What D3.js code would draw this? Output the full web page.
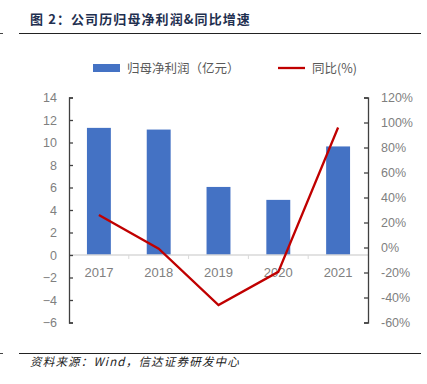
<!DOCTYPE html>
<html lang="zh">
<head>
<meta charset="UTF-8">
<title>公司历归母净利润&同比增速</title>
<script src="https://cdn.jsdelivr.net/npm/d3@7/dist/d3.min.js"></script>
<style>
    body { margin: 0; background: #fff; }
    svg { display: block; }
    .tick text { fill: #7f7f7f; font-family: "Liberation Sans", "Noto Sans CJK SC", sans-serif; }
</style>
</head>
<body>
<svg id="main" width="427" height="384"></svg>
<script>
    // data
    var years = ["2017", "2018", "2019", "2020", "2021"];
    var profit = [11.3, 11.15, 6.05, 4.9, 9.65];      // 亿元
    var growth = [26, -1, -46, -19.5, 96];            // %
    var leftTicks = [-6, -4, -2, 0, 2, 4, 6, 8, 10, 12, 14];
    var rightTicks = [-60, -40, -20, 0, 20, 40, 60, 80, 100, 120];

    var svg = d3.select("#main");
    var plotL = 69, plotR = 368, plotT = 97.5, plotB = 322.5;

    var x = d3.scaleBand().domain(years).range([plotL, plotR]).paddingInner(0.6).paddingOuter(0.3);
    var xc = d3.scaleBand().domain(years).range([plotL, plotR]);
    var y = d3.scaleLinear().domain([-6, 14]).range([plotB, plotT]);
    var y2 = d3.scaleLinear().domain([-60, 120]).range([plotB, plotT]);

    // title
    svg.append("text")
        .attr("x", 30).attr("y", 24)
        .attr("font-family", "'Noto Sans CJK SC', sans-serif")
        .attr("font-size", 13).attr("font-weight", "bold")
        .attr("letter-spacing", 1.1)
        .attr("fill", "#1f3050")
        .text("图 2：公司历归母净利润&同比增速");
    svg.append("line").attr("x1", 19).attr("x2", 421).attr("y1", 33.5).attr("y2", 33.5)
        .attr("stroke", "#222").attr("stroke-width", 1);
    svg.append("line").attr("x1", 0).attr("x2", 3).attr("y1", 33.5).attr("y2", 33.5)
        .attr("stroke", "#444").attr("stroke-width", 1);

    // bars
    svg.selectAll(".bar").data(profit).enter().append("rect")
        .attr("class", "bar")
        .attr("x", function(d, i) { return x(years[i]); })
        .attr("width", x.bandwidth())
        .attr("y", function(d) { return y(Math.max(0, d)); })
        .attr("height", function(d) { return Math.abs(y(d) - y(0)); })
        .attr("fill", "#4472c4");

    // category axis at zero
    var xAxis = svg.append("g")
        .attr("transform", "translate(0," + y(0) + ")");
    xAxis.append("line").attr("x1", plotL).attr("x2", plotR).attr("stroke", "#d9d9d9").attr("stroke-width", 1.3);
    xAxis.selectAll(".sep").data(years.slice(1)).enter().append("line")
        .attr("x1", function(d) { return xc(d); }).attr("x2", function(d) { return xc(d); })
        .attr("y1", 0).attr("y2", 4).attr("stroke", "#d9d9d9");
    xAxis.selectAll(".cat").data(years).enter().append("text")
        .attr("x", function(d) { return xc(d) + xc.bandwidth() / 2; })
        .attr("y", 22)
        .attr("text-anchor", "middle")
        .attr("font-family", "'Liberation Sans', sans-serif")
        .attr("font-size", 13).attr("fill", "#808080")
        .text(function(d) { return d; });

    // left axis
    var gl = svg.append("g").attr("transform", "translate(" + plotL + ",0)")
        .call(d3.axisRight(y).tickValues(leftTicks).tickSize(4).tickFormat(d3.format("d")));
    gl.select(".domain").attr("stroke", "#404040").attr("stroke-width", 1.3);
    gl.selectAll(".tick line").attr("stroke", "#404040").attr("stroke-width", 1.3);
    gl.selectAll(".tick text").attr("x", -12).attr("text-anchor", "end").attr("font-size", 12.5);

    // right axis
    var gr = svg.append("g").attr("transform", "translate(" + plotR + ",0)")
        .call(d3.axisLeft(y2).tickValues(rightTicks).tickSize(4).tickFormat(function(d) { return d + "%"; }));
    gr.select(".domain").attr("stroke", "#404040").attr("stroke-width", 1.3);
    gr.selectAll(".tick line").attr("stroke", "#404040").attr("stroke-width", 1.3);
    gr.selectAll(".tick text").attr("x", 13).attr("text-anchor", "start").attr("font-size", 12.5);

    // growth line
    var line = d3.line()
        .x(function(d, i) { return xc(years[i]) + xc.bandwidth() / 2; })
        .y(function(d) { return y2(d); });
    svg.append("path").datum(growth)
        .attr("d", line)
        .attr("fill", "none")
        .attr("stroke", "#c00000")
        .attr("stroke-width", 2.3);

    // legend
    var lg = svg.append("g").attr("font-family", "'Noto Sans CJK SC', sans-serif").attr("font-size", 12.5).attr("fill", "#595959");
    lg.append("rect").attr("x", 93).attr("y", 64).attr("width", 27).attr("height", 8).attr("fill", "#4472c4");
    lg.append("text").attr("x", 127).attr("y", 73).text("归母净利润（亿元）");
    lg.append("line").attr("x1", 278).attr("x2", 305).attr("y1", 68).attr("y2", 68)
        .attr("stroke", "#c00000").attr("stroke-width", 2.3);
    lg.append("text").attr("x", 312).attr("y", 73).text("同比(%)");

    // source
    svg.append("line").attr("x1", 19).attr("x2", 421).attr("y1", 353.5).attr("y2", 353.5)
        .attr("stroke", "#222").attr("stroke-width", 1);
    svg.append("line").attr("x1", 0).attr("x2", 3).attr("y1", 353.5).attr("y2", 353.5)
        .attr("stroke", "#444").attr("stroke-width", 1);
    svg.append("text")
        .attr("x", 30).attr("y", 366)
        .attr("font-family", "'Noto Sans CJK SC', sans-serif")
        .attr("font-size", 11.5).attr("font-style", "italic")
        .attr("letter-spacing", 1.2)
        .attr("fill", "#222")
        .text("资料来源：Wind，信达证券研发中心");
</script>
</body>
</html>
